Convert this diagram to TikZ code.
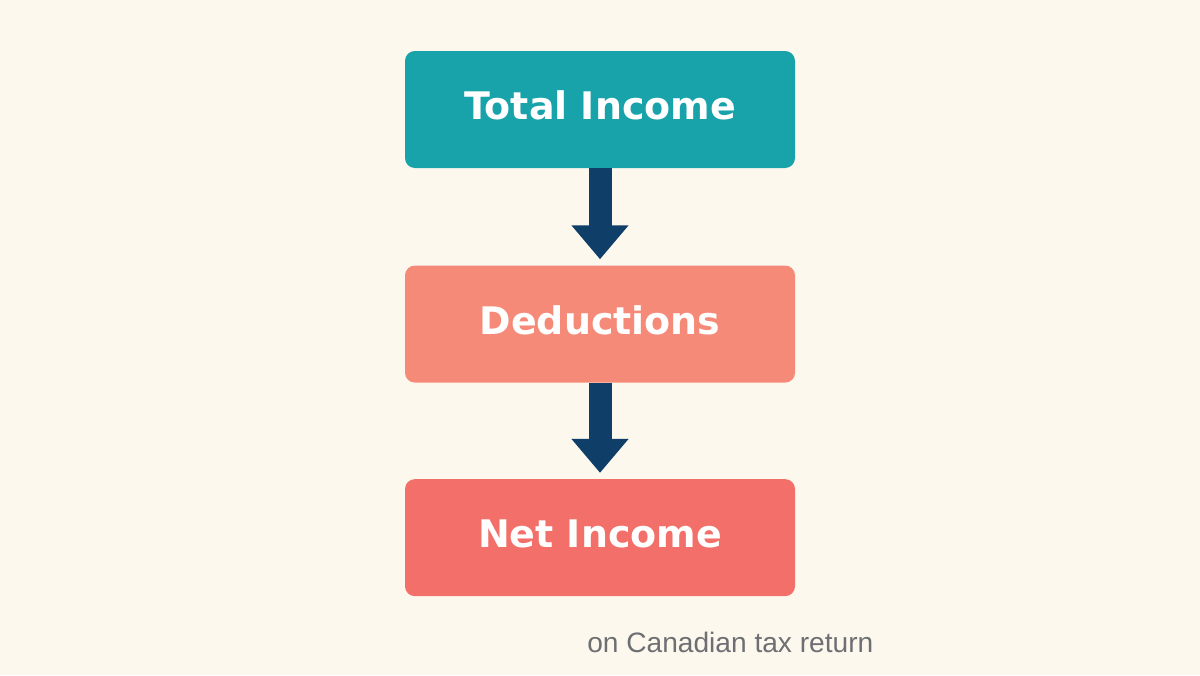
\documentclass[tikz,border=0pt]{standalone}
\usepackage{fontspec}
\setmainfont{DejaVu Sans}
\newfontfamily\notefont{Liberation Sans}
\definecolor{PageCream}{HTML}{FDF8EE}
\definecolor{TealBox}{HTML}{17A3A9}
\definecolor{SalmonBox}{HTML}{F68A79}
\definecolor{CoralBox}{HTML}{F3706A}
\definecolor{ArrowNavy}{HTML}{0F3E68}
\definecolor{NoteGray}{HTML}{6D6F73}
\usetikzlibrary{arrows.meta,positioning}

\begin{document}
\begin{tikzpicture}[
    stepbox/.style={rounded corners=7pt, minimum width=9.75cm,
      minimum height=2.925cm, text depth=0.2cm, text=white,
      font=\fontsize{27}{30}\selectfont\bfseries},
    flowarrow/.style={draw=ArrowNavy, line width=0.575cm,
      -{Triangle[width=1.375cm,length=0.85cm]}, shorten >=0.15cm}
  ]
  % page
  \fill[PageCream] (0,0) rectangle (30,-16.875);
  \useasboundingbox (0,0) rectangle (30,-16.875);

  % boxes
  \node[stepbox, fill=TealBox] (total) at (15,-2.7375) {Total Income};
  \node[stepbox, fill=SalmonBox, below=2.425cm of total] (deduct) {Deductions};
  \node[stepbox, fill=CoralBox, below=2.4cm of deduct] (net) {Net Income};

  % arrows
  \draw[flowarrow] (total.south) -- (deduct.north);
  \draw[flowarrow] (deduct.south) -- (net.north);

  % footnote
  \node[anchor=base west, inner sep=0pt, text=NoteGray,
    font=\notefont\fontsize{20}{24}\selectfont] (note) at (14.675,-16.3)
    {on Canadian tax return};
\end{tikzpicture}
\end{document}
